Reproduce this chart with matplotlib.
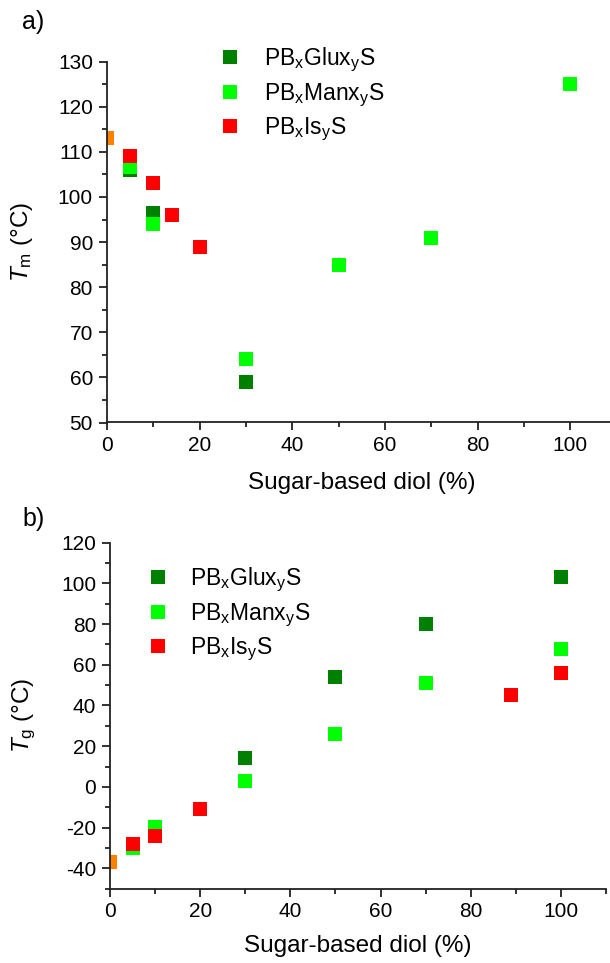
import matplotlib
matplotlib.use("Agg")
import matplotlib.pyplot as plt
from matplotlib.ticker import MultipleLocator

plt.rcParams['font.family'] = ['Liberation Sans', 'DejaVu Sans']
plt.rcParams['mathtext.fontset'] = 'custom'
plt.rcParams['mathtext.rm'] = 'Liberation Sans'
plt.rcParams['mathtext.it'] = 'Liberation Sans:italic'
plt.rcParams['mathtext.default'] = 'regular'
plt.rcParams['axes.unicode_minus'] = False

# ---- data ----
series_labels = [r'PB$_x$Glux$_y$S', r'PB$_x$Manx$_y$S', r'PB$_x$Is$_y$S']
series_colors = ['#008000', '#00FF00', '#FF0000']
pbs_color = '#FF8000'

# (a) melting temperature
glu_x_tm = [5, 10, 30]
glu_tm = [106, 96.4, 59]
man_x_tm = [5, 10, 30, 50, 70, 100]
man_tm = [106.6, 94, 64, 85, 91, 125]
is_x_tm = [5, 10, 14, 20]
is_tm = [109, 103, 96, 89]
pbs_x = [0]
pbs_tm = [113]

# (b) glass transition temperature
glu_x_tg = [5, 10, 30, 50, 70, 100]
glu_tg = [-30, -20, 14, 54, 80, 103]
man_x_tg = [5, 10, 30, 50, 70, 100]
man_tg = [-30, -19.5, 3, 26, 51, 68]
is_x_tg = [5, 10, 20, 89, 100]
is_tg = [-28, -24, -11, 45, 56]
pbs_tg = [-37]

xticks = [0, 20, 40, 60, 80, 100]
tm_ticks = [50, 60, 70, 80, 90, 100, 110, 120, 130]
tg_ticks = [-40, -20, 0, 20, 40, 60, 80, 100, 120]

W, H = 610, 963
fig = plt.figure(figsize=(W / 100, H / 100), dpi=100)

ms = 9.4
tick_fs = 15
label_fs = 17.5
leg_fs = 16.5


def style_axes(ax, yminor):
    for s in ['top', 'right']:
        ax.spines[s].set_visible(False)
    for s in ['left', 'bottom']:
        ax.spines[s].set_linewidth(1.3)
        ax.spines[s].set_color('#222222')
    ax.xaxis.set_minor_locator(MultipleLocator(10))
    ax.yaxis.set_minor_locator(MultipleLocator(yminor))
    ax.tick_params(which='major', direction='out', length=6, width=1.3,
                   labelsize=tick_fs, color='#222222', pad=4)
    ax.tick_params(which='minor', direction='out', length=3.5, width=1.3,
                   color='#222222')


# ---- panel a ----
ax1 = fig.add_axes([106.8 / W, 1 - 422.5 / H, 509.9 / W, 360.8 / H])
ax1.plot(glu_x_tm, glu_tm, 's', color=series_colors[0], ms=ms, mew=0, label=series_labels[0])
ax1.plot(man_x_tm, man_tm, 's', color=series_colors[1], ms=ms, mew=0, label=series_labels[1])
ax1.plot(is_x_tm, is_tm, 's', color=series_colors[2], ms=ms, mew=0, label=series_labels[2])
ax1.plot(pbs_x, pbs_tm, 's', color=pbs_color, ms=ms, mew=0)
ax1.set_xlim(0, 110)
ax1.set_ylim(50, 130)
ax1.set_xticks(xticks)
ax1.set_yticks(tm_ticks)
style_axes(ax1, 5)
ax1.set_xlabel('Sugar-based diol (%)', fontsize=label_fs, labelpad=12)
ax1.set_ylabel(r'$\mathit{T}_m$ (°C)', fontsize=label_fs)
ax1.yaxis.set_label_coords(-0.14, 0.5)
ax1.legend(loc='upper left', bbox_to_anchor=(220 / W, 1 - 46 / H),
           bbox_transform=fig.transFigure, frameon=False, fontsize=leg_fs,
           handlelength=0.9, handletextpad=1.0, borderpad=0, borderaxespad=0,
           labelspacing=0.3)

# ---- panel b ----
ax2 = fig.add_axes([110 / W, 1 - 888.6 / H, 496 / W, 345.9 / H])
ax2.plot(glu_x_tg, glu_tg, 's', color=series_colors[0], ms=ms, mew=0, label=series_labels[0])
ax2.plot(man_x_tg, man_tg, 's', color=series_colors[1], ms=ms, mew=0, label=series_labels[1])
ax2.plot(is_x_tg, is_tg, 's', color=series_colors[2], ms=ms, mew=0, label=series_labels[2])
ax2.plot(pbs_x, pbs_tg, 's', color=pbs_color, ms=ms, mew=0)
ax2.set_xlim(0, 110)
ax2.set_ylim(-50, 120)
ax2.set_xticks(xticks)
ax2.set_yticks(tg_ticks)
style_axes(ax2, 10)
ax2.set_xlabel('Sugar-based diol (%)', fontsize=label_fs, labelpad=10)
ax2.set_ylabel(r'$\mathit{T}_g$ (°C)', fontsize=label_fs)
ax2.yaxis.set_label_coords(-0.145, 0.5)
ax2.legend(loc='upper left', bbox_to_anchor=(148 / W, 1 - 566 / H),
           bbox_transform=fig.transFigure, frameon=False, fontsize=leg_fs,
           handlelength=0.9, handletextpad=0.95, borderpad=0, borderaxespad=0,
           labelspacing=0.3)

fig.text(33 / W, 1 - 22 / H, 'a)', fontsize=18, ha='center', va='center')
fig.text(34 / W, 1 - 519 / H, 'b)', fontsize=18, ha='center', va='center')

fig.savefig('out.png', dpi=100)
